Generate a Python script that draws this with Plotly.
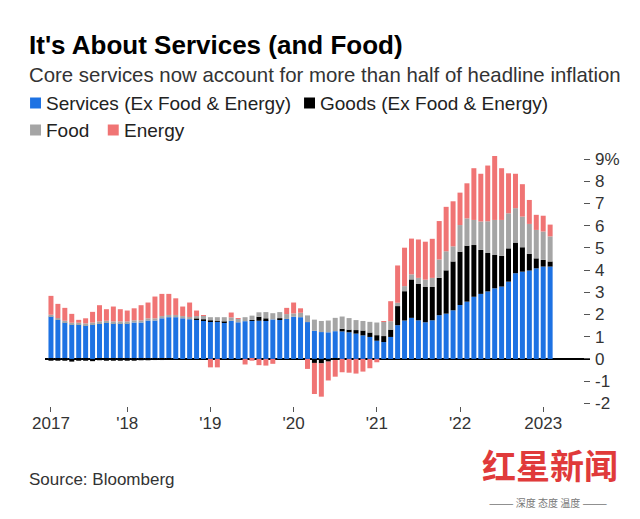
import plotly.graph_objects as go

# Months Feb 2017 .. Feb 2023 (73 bars), contributions to CPI YoY, percentage points
months = list(range(73))

services = [
    1.91, 1.76, 1.64, 1.55, 1.55, 1.52, 1.56, 1.61, 1.64, 1.61, 1.61, 1.61,
    1.64, 1.64, 1.73, 1.73, 1.83, 1.88, 1.88, 1.83, 1.79, 1.76, 1.73,
    1.68, 1.68, 1.64, 1.72, 1.65, 1.70, 1.72, 1.72, 1.75, 1.78, 1.78, 1.80, 1.90,
    1.88, 1.66, 1.27, 1.21, 1.20, 1.25, 1.24, 1.20, 1.14, 1.06, 0.99,
    0.82, 0.76, 0.99, 1.52, 1.73, 1.85, 1.74, 1.65, 1.74, 1.97, 2.04, 2.19,
    2.43, 2.58, 2.80, 2.93, 3.04, 3.18, 3.26, 3.48, 3.86, 3.93, 3.98, 4.08, 4.16, 4.16,
]
goods = [
    -0.08, -0.08, -0.08, -0.12, -0.08, -0.08, -0.10, -0.06, -0.08, -0.08, -0.08, -0.08,
    -0.08, -0.06, -0.06, -0.05, -0.05, -0.04, 0.0, 0.0, 0.0, 0.05, 0.05,
    0.05, 0.02, 0.04, 0.0, 0.0, 0.0, 0.03, 0.18, 0.08, 0.0, 0.05, 0.0, 0.0,
    0.0, 0.0, -0.18, -0.20, -0.12, -0.05, 0.12, 0.12, 0.16, 0.22, 0.20,
    0.25, 0.27, 0.33, 0.86, 1.32, 1.73, 1.65, 1.59, 1.50, 1.68, 1.95, 2.20,
    2.40, 2.52, 2.33, 1.98, 1.73, 1.50, 1.38, 1.50, 1.38, 1.10, 0.75, 0.45, 0.30, 0.23,
]
food = [
    0.08, 0.08, 0.08, 0.08, 0.08, 0.08, 0.08, 0.08, 0.08, 0.08, 0.08, 0.08,
    0.10, 0.10, 0.10, 0.10, 0.10, 0.10, 0.10, 0.10, 0.10, 0.12, 0.16,
    0.15, 0.18, 0.20, 0.15, 0.15, 0.18, 0.20, 0.20, 0.28, 0.28, 0.28, 0.22, 0.15,
    0.20, 0.30, 0.50, 0.50, 0.53, 0.60, 0.55, 0.52, 0.45, 0.43, 0.48,
    0.57, 0.64, 0.38, 0.15, 0.23, 0.23, 0.26, 0.33, 0.41, 0.83, 0.86, 0.68,
    1.20, 1.23, 1.13, 1.28, 1.43, 1.58, 1.62, 1.58, 1.55, 1.38, 1.35, 1.28, 1.28, 1.13,
]
energy = [
    0.85, 0.64, 0.58, 0.40, 0.13, 0.23, 0.48, 0.73, 0.52, 0.67, 0.55, 0.49,
    0.54, 0.68, 0.71, 0.98, 1.00, 0.95, 0.75, 0.43, 0.65, 0.25, 0.02,
    -0.38, -0.38, 0.00, 0.22, 0.03, -0.25, -0.08, -0.28, -0.30, -0.22, 0.00, 0.28, 0.49,
    0.20, -0.45, -1.40, -1.50, -0.85, -0.75, -0.60, -0.62, -0.66, -0.57, -0.42,
    -0.15, 0.02, 0.90, 1.68, 1.73, 1.61, 1.73, 1.71, 1.76, 1.73, 2.00, 2.03,
    1.46, 1.58, 2.33, 2.15, 2.51, 2.88, 2.33, 1.80, 1.55, 1.46, 1.08, 0.68, 0.71, 0.53,
]

x_tick_pos = [0, 11, 23, 35, 47, 59, 71]
x_tick_text = ["2017", "'18", "'19", "'20", "'21", "'22", "2023"]
y_tick_vals = [-2, -1, 0, 1, 2, 3, 4, 5, 6, 7, 8, 9]
y_tick_text = ["-2", "-1", "0", "1", "2", "3", "4", "5", "6", "7", "8", "9%"]

names = ["Services (Ex Food & Energy)", "Goods (Ex Food & Energy)", "Food", "Energy"]
colors = ["#1d72e3", "#000000", "#a5a5a5", "#f07474"]
series = [services, goods, food, energy]

FONT = "Liberation Sans, Arial, sans-serif"

fig = go.Figure()
for nm, col, vals in zip(names, colors, series):
    fig.add_trace(go.Bar(x=months, y=vals, name=nm, marker=dict(color=col, line=dict(width=0)),
                         showlegend=False))

# page body has an 8px margin; figure sized to fit the 640x519 window
OFF = 8
W, H = 624, 503
L, R, T, B = 37, 40, 142, 105
pw, ph = W - L - R, H - T - B


def px(xp):
    return (xp - OFF - L) / pw


def py(yp):
    return (H - B - (yp - OFF)) / ph


annotations = [
    dict(text="<b>It's About Services (and Food)</b>", x=px(27), y=py(45), xref="paper", yref="paper",
         xanchor="left", yanchor="middle", showarrow=False, font=dict(size=26, color="#000", family=FONT)),
    dict(text="Core services now account for more than half of headline inflation", x=px(27), y=py(75),
         xref="paper", yref="paper", xanchor="left", yanchor="middle", showarrow=False,
         font=dict(size=20.4, color="#333", family=FONT)),
    dict(text="Source: Bloomberg", x=px(27), y=py(479), xref="paper", yref="paper", xanchor="left",
         yanchor="middle", showarrow=False, font=dict(size=17, color="#333", family=FONT)),
    dict(text="<b>红星新闻</b>", x=px(552), y=py(464), xref="paper", yref="paper", xanchor="center",
         yanchor="middle", showarrow=False, font=dict(size=34, color="#e03a3a", family="Noto Sans CJK SC")),
    dict(text="——— 深度 态度 温度 ———", x=px(550), y=py(502), xref="paper", yref="paper", xanchor="center",
         yanchor="middle", showarrow=False, font=dict(size=10, color="#777", family="Noto Sans CJK SC")),
]

shapes = []
legend_items = [(30, 103, 0), (305, 103, 1), (30, 130, 2), (108, 130, 3)]
for xl, yc, i in legend_items:
    shapes.append(dict(type="rect", xref="paper", yref="paper", x0=px(xl), x1=px(xl + 11),
                       y0=py(yc - 5.5), y1=py(yc + 5.5), fillcolor=colors[i], line=dict(width=0)))
    annotations.append(dict(text=names[i], x=px(xl + 14), y=py(yc), xref="paper", yref="paper",
                            xanchor="left", yanchor="middle", showarrow=False,
                            font=dict(size=19, color="#222", family=FONT)))

fig.update_layout(
    width=W, height=H, margin=dict(l=L, r=R, t=T, b=B),
    paper_bgcolor="white", plot_bgcolor="white",
    barmode="relative", bargap=0.28,
    annotations=annotations, shapes=shapes,
    font=dict(family=FONT, color="#333"),
    xaxis=dict(range=[-0.86, 77.75], tickmode="array", tickvals=x_tick_pos, ticktext=x_tick_text,
               ticks="outside", ticklen=5, tickcolor="#555", tickwidth=1, showgrid=False,
               zeroline=False, showline=False, ticklabelstandoff=-3,
               tickfont=dict(size=17, color="#333")),
    yaxis=dict(range=[-2.12, 9.41], side="right", tickmode="array", tickvals=y_tick_vals,
               ticktext=y_tick_text, ticks="inside", ticklen=6, tickcolor="#555", tickwidth=1.2,
               showgrid=False, zeroline=True, zerolinecolor="#000", zerolinewidth=1.5,
               showline=False, ticklabelstandoff=4, tickfont=dict(size=17, color="#333")),
)

fig.write_html("out.html")
